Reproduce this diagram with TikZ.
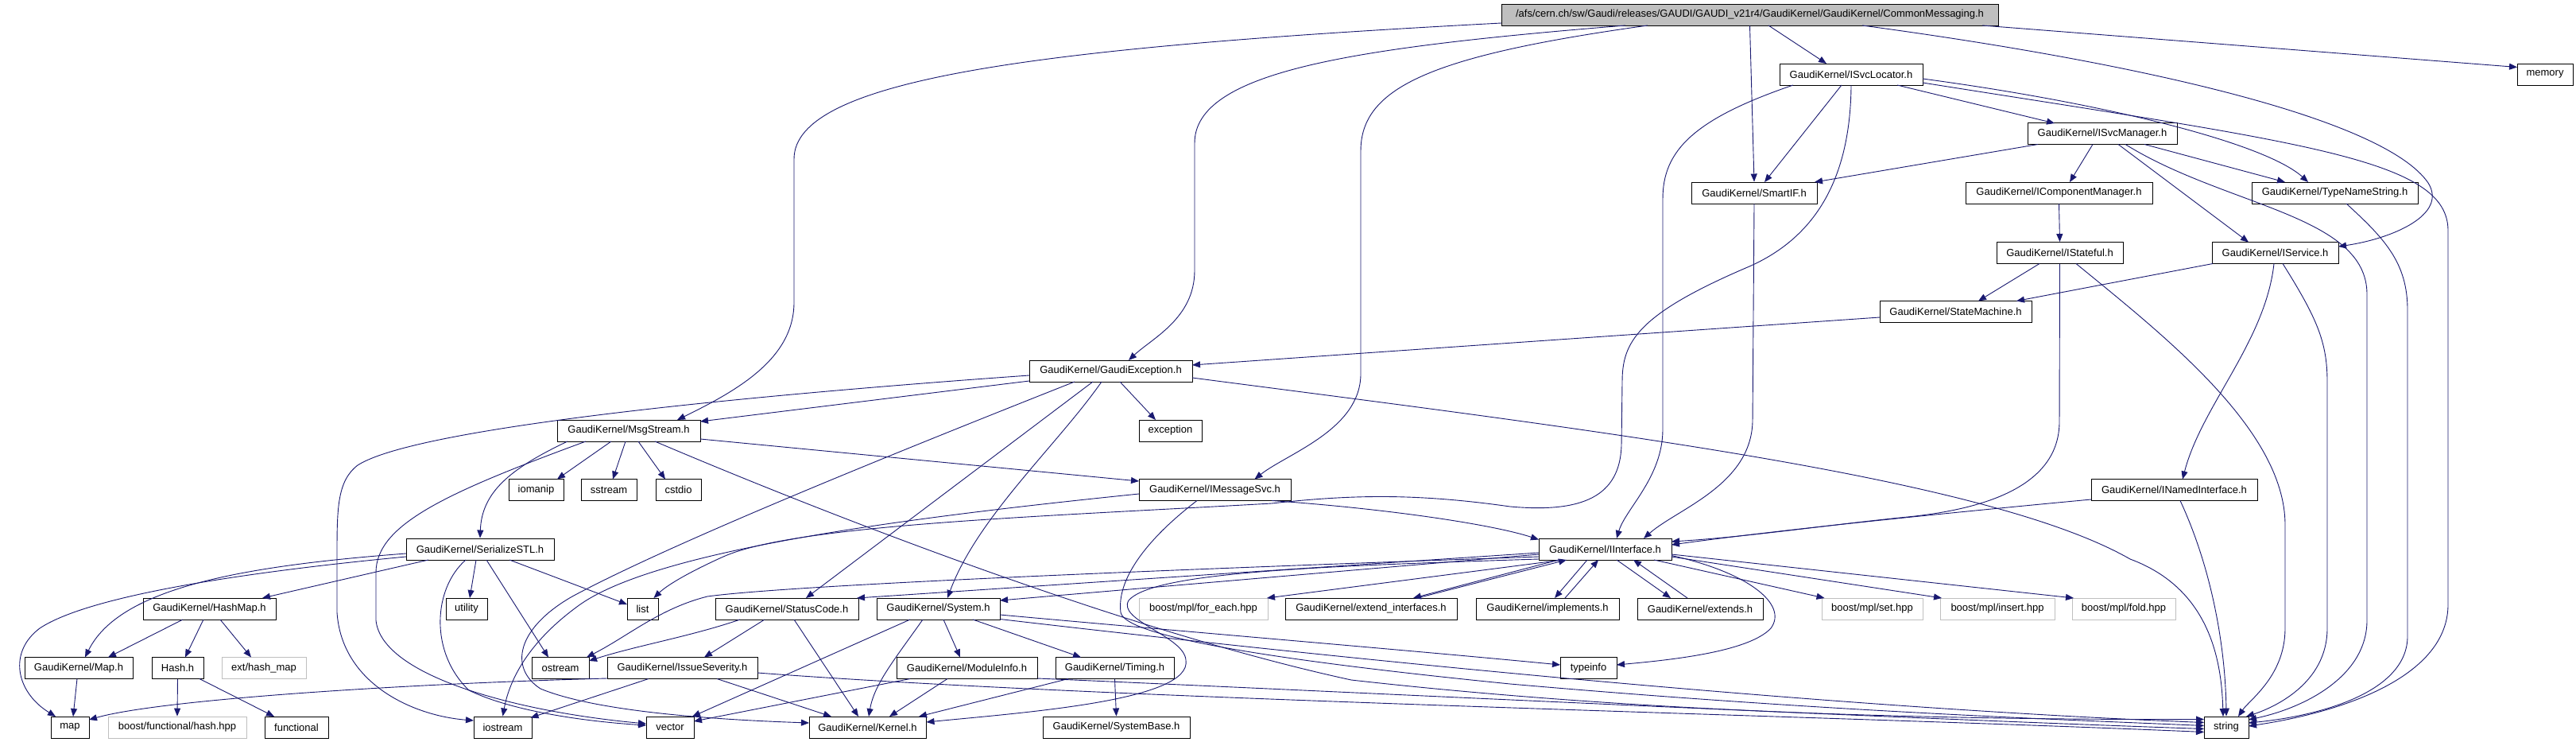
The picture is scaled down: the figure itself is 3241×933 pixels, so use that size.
\documentclass[tikz,border=0pt]{standalone}
\usepackage{fontspec}
\setmainfont{Liberation Sans}
\usetikzlibrary{arrows.meta}
\definecolor{edgec}{HTML}{191970}
\definecolor{greyf}{HTML}{BFBFBF}
\newcommand\gfont{\fontsize{13}{15}\selectfont}
\begin{document}
\begin{tikzpicture}[x=1pt,y=-1pt,
  box/.style={draw=black, line width=0.9pt, rectangle, minimum height=27pt, inner sep=0pt, font=\gfont, text=black, fill=white},
  gbox/.style={box, draw=greyf},
  e/.style={draw=edgec, line width=0.9pt, -{Triangle[length=10pt,width=8pt]}}]
\useasboundingbox (0,0) rectangle (3241,933);
\fill[white] (0,0) rectangle (3241,933);
% ---- nodes
\node[box, fill=greyf, minimum width=625pt] (root) at (2201.5,18.5) {/afs/cern.ch/sw/Gaudi/releases/GAUDI/GAUDI\_v21r4/GaudiKernel/GaudiKernel/CommonMessaging.h};
\node[box, minimum width=180pt] (svcloc) at (2329,93.5) {GaudiKernel/ISvcLocator.h};
\node[box, minimum width=70pt] (memory) at (3202,93.5) {memory};
\node[box, minimum width=188pt] (svcmgr) at (2645,168) {GaudiKernel/ISvcManager.h};
\node[box, minimum width=158pt] (smartif) at (2207,242.5) {GaudiKernel/SmartIF.h};
\node[box, minimum width=235pt] (compmgr) at (2590.5,242.5) {GaudiKernel/IComponentManager.h};
\node[box, minimum width=209pt] (typename) at (2937.5,242.5) {GaudiKernel/TypeNameString.h};
\node[box, minimum width=159pt] (stateful) at (2591.5,318) {GaudiKernel/IStateful.h};
\node[box, minimum width=159pt] (service) at (2862.5,318) {GaudiKernel/IService.h};
\node[box, minimum width=191pt] (statemachine) at (2460.5,392) {GaudiKernel/StateMachine.h};
\node[box, minimum width=205pt] (gexc) at (1397.5,466.5) {GaudiKernel/GaudiException.h};
\node[box, minimum width=180pt] (msgstream) at (791,541.5) {GaudiKernel/MsgStream.h};
\node[box, minimum width=79pt] (exception) at (1472.5,541.5) {exception};
\node[box, minimum width=69pt] (iomanip) at (674.5,616) {iomanip};
\node[box, minimum width=70pt] (sstream) at (766,616) {sstream};
\node[box, minimum width=57pt] (cstdio) at (853.5,616) {cstdio};
\node[box, minimum width=191pt] (imsgsvc) at (1528.5,616) {GaudiKernel/IMessageSvc.h};
\node[box, minimum width=209pt] (inamed) at (2735.5,616) {GaudiKernel/INamedInterface.h};
\node[box, minimum width=186pt] (serial) at (604,690.5) {GaudiKernel/SerializeSTL.h};
\node[box, minimum width=167pt] (iinterface) at (2019.5,690.5) {GaudiKernel/IInterface.h};
\node[box, minimum width=167pt] (hashmap) at (263.5,765.5) {GaudiKernel/HashMap.h};
\node[box, minimum width=52pt] (utility) at (587,765.5) {utility};
\node[box, minimum width=39pt] (list) at (808.5,765.5) {list};
\node[box, minimum width=180pt] (statuscode) at (990,765.5) {GaudiKernel/StatusCode.h};
\node[box, minimum width=155pt] (system) at (1180.5,765.5) {GaudiKernel/System.h};
\node[gbox, minimum width=162pt] (foreach) at (1514,765.5) {boost/mpl/for\_each.hpp};
\node[box, minimum width=216pt] (extif) at (1725,765.5) {GaudiKernel/extend\_interfaces.h};
\node[box, minimum width=180pt] (implements) at (1947,765.5) {GaudiKernel/implements.h};
\node[box, minimum width=158pt] (extends) at (2139,765.5) {GaudiKernel/extends.h};
\node[gbox, minimum width=127pt] (set) at (2355.5,765.5) {boost/mpl/set.hpp};
\node[gbox, minimum width=144pt] (insert) at (2513,765.5) {boost/mpl/insert.hpp};
\node[gbox, minimum width=130pt] (fold) at (2672,765.5) {boost/mpl/fold.hpp};
\node[box, minimum width=136pt] (mapgk) at (99,840) {GaudiKernel/Map.h};
\node[box, minimum width=65pt] (hash) at (223.5,840) {Hash.h};
\node[gbox, minimum width=106pt] (exthash) at (332,840) {ext/hash\_map};
\node[box, minimum width=72pt] (ostream) at (705,840) {ostream};
\node[box, minimum width=189pt] (issue) at (858.5,840) {GaudiKernel/IssueSeverity.h};
\node[box, minimum width=177pt] (moduleinfo) at (1216.5,840) {GaudiKernel/ModuleInfo.h};
\node[box, minimum width=149pt] (timing) at (1402.5,840) {GaudiKernel/Timing.h};
\node[box, minimum width=71pt] (typeinfo) at (1998.5,840) {typeinfo};
\node[box, minimum width=48pt] (map) at (88,914.5) {map};
\node[gbox, minimum width=174pt] (boosthash) at (223,914.5) {boost/functional/hash.hpp};
\node[box, minimum width=80pt] (functional) at (373,914.5) {functional};
\node[box, minimum width=73pt] (iostream) at (632.5,914.5) {iostream};
\node[box, minimum width=60pt] (vector) at (843,914.5) {vector};
\node[box, minimum width=147pt] (kernel) at (1091.5,914.5) {GaudiKernel/Kernel.h};
\node[box, minimum width=185pt] (systembase) at (1404.5,914.5) {GaudiKernel/SystemBase.h};
\node[box, minimum width=56pt] (string) at (2801,914.5) {string};
% ---- root
\draw[e] ([shift={(23.5,13.5)}]root.center) -- ([shift={(-31,-13.5)}]svcloc.center);
\draw[e] (root.south) -- (smartif.north);
\draw[e] ([shift={(292.5,13.5)}]root.center) -- ([shift={(-35,-9)}]memory.center);
\draw[e] ([shift={(-156.5,13.5)}]root.center) .. controls (1700,60) and (1503,90) .. (1503,180) -- (1503,340) .. controls (1503,400) and (1450,425) .. ([shift={(22.5,-13.5)}]gexc.center);
\draw[e] ([shift={(-312.5,10.5)}]root.center) .. controls (1300,60) and (999,100) .. (999,200) -- (999,380) .. controls (999,450) and (930,490) .. ([shift={(61,-13.5)}]msgstream.center);
\draw[e] ([shift={(-128.5,13.5)}]root.center) .. controls (1800,70) and (1712,110) .. (1712,190) -- (1712,470) .. controls (1712,540) and (1620,570) .. ([shift={(50,-13.5)}]imsgsvc.center);
\draw[e] ([shift={(141.5,13.5)}]root.center) .. controls (2700,80) and (3000,150) .. (3055,230) .. controls (3080,270) and (3010,300) .. ([shift={(79.5,-8)}]service.center);
% ---- ISvcLocator
\draw[e] ([shift={(58,13.5)}]svcloc.center) -- ([shift={(-60,-13)}]svcmgr.center);
\draw[e] ([shift={(-12,13.5)}]svcloc.center) -- ([shift={(13,-13.5)}]smartif.center);
\draw[e] ([shift={(-73,13.5)}]svcloc.center) .. controls (2130,150) and (2092,190) .. (2092,250) -- (2092,540) .. controls (2092,600) and (2045,640) .. ([shift={(14.5,-13.5)}]iinterface.center);
\draw[e] (svcloc.south) .. controls (2328,230) and (2280,300) .. (2201,335) .. controls (2060,395) and (2041,430) .. (2041,480) -- (2040,560) .. controls (2038,625) and (1990,645) .. (1900,637) .. controls (1780,620) and (1700,622) .. (1600,633) .. controls (1300,650) and (1000,660) .. (910,700) .. controls (870,718) and (840,735) .. ([shift={(14,-13.5)}]list.center);
\draw[e] ([shift={(90,5.5)}]svcloc.center) .. controls (2650,130) and (2850,180) .. ([shift={(-33.5,-13.5)}]typename.center);
\draw[e] ([shift={(90,10.5)}]svcloc.center) .. controls (2900,180) and (3080,200) .. (3080,290) -- (3080,760) .. controls (3080,850) and (2950,895) .. ([shift={(28,-1.5)}]string.center);
% ---- ISvcManager
\draw[e] ([shift={(-81,13.5)}]svcmgr.center) -- ([shift={(76,-13.5)}]smartif.center);
\draw[e] ([shift={(-12,13.5)}]svcmgr.center) -- ([shift={(13.5,-13.5)}]compmgr.center);
\draw[e] ([shift={(53,13.5)}]svcmgr.center) -- ([shift={(-62.5,-13.5)}]typename.center);
\draw[e] ([shift={(20,13.5)}]svcmgr.center) -- ([shift={(-33.5,-13.5)}]service.center);
\draw[e] ([shift={(29,13.5)}]svcmgr.center) .. controls (2800,260) and (2978,270) .. (2978,370) -- (2978,780) .. controls (2978,850) and (2900,890) .. ([shift={(28,-9.5)}]string.center);
\draw[e] ([shift={(14.5,13.5)}]typename.center) .. controls (3000,300) and (3029,330) .. (3029,390) -- (3029,800) .. controls (3029,870) and (2920,900) .. ([shift={(28,-5.5)}]string.center);
\draw[e] (compmgr.south) -- (stateful.north);
% ---- IStateful / IService
\draw[e] ([shift={(-25.5,13.5)}]stateful.center) -- ([shift={(28.5,-13.5)}]statemachine.center);
\draw[e] (stateful.south) -- (2591,530) .. controls (2591,610) and (2500,640) .. (2400,650) .. controls (2300,660) and (2200,675) .. ([shift={(83.5,-9.5)}]iinterface.center);
\draw[e] ([shift={(20.5,13.5)}]stateful.center) .. controls (2720,420) and (2875,540) .. (2875,660) -- (2875,790) .. controls (2875,850) and (2830,880) .. ([shift={(15,-13.5)}]string.center);
\draw[e] ([shift={(-78.5,13.5)}]service.center) -- ([shift={(76.5,-13.5)}]statemachine.center);
\draw[e] ([shift={(-1.5,13.5)}]service.center) .. controls (2850,430) and (2770,510) .. ([shift={(10.5,-13.5)}]inamed.center);
\draw[e] ([shift={(9.5,13.5)}]service.center) .. controls (2915,400) and (2928,430) .. (2928,480) -- (2928,790) .. controls (2928,860) and (2860,890) .. ([shift={(25,-13.5)}]string.center);
\draw[e] ([shift={(-104.5,12)}]inamed.center) .. controls (2450,645) and (2250,665) .. ([shift={(83.5,-5.5)}]iinterface.center);
\draw[e] ([shift={(7.5,13.5)}]inamed.center) .. controls (2785,720) and (2800,820) .. (string.north);
\draw[e] ([shift={(-95.5,7)}]statemachine.center) -- ([shift={(102.5,-7.5)}]gexc.center);
\draw[e] (smartif.south) -- (2205,530) .. controls (2203,610) and (2110,640) .. ([shift={(48.5,-13.5)}]iinterface.center);
% ---- GaudiException
\draw[e] ([shift={(-102.5,5.5)}]gexc.center) .. controls (900,500) and (520,540) .. (450,585) .. controls (424,605) and (424,640) .. (424,700) -- (424,770) .. controls (430,860) and (520,900) .. ([shift={(-36.5,-8.5)}]iostream.center);
\draw[e] ([shift={(-102.5,12.5)}]gexc.center) -- ([shift={(90,-11.5)}]msgstream.center);
\draw[e] ([shift={(-45.5,13.5)}]gexc.center) .. controls (1150,560) and (850,680) .. (720,750) .. controls (650,790) and (640,840) .. (680,866) .. controls (750,895) and (900,905) .. ([shift={(-73.5,-5.5)}]kernel.center);
\draw[e] ([shift={(-22.5,13.5)}]gexc.center) -- ([shift={(24,-13.5)}]statuscode.center);
\draw[e] ([shift={(-11.5,13.5)}]gexc.center) .. controls (1330,560) and (1230,650) .. ([shift={(11.5,-13.5)}]system.center);
\draw[e] ([shift={(11.5,13.5)}]gexc.center) -- ([shift={(-18.5,-13.5)}]exception.center);
\draw[e] ([shift={(102.5,8.5)}]gexc.center) .. controls (2000,540) and (2500,600) .. (2680,703) .. controls (2780,740) and (2795,830) .. ([shift={(-4,-13.5)}]string.center);
% ---- MsgStream
\draw[e] ([shift={(90,10.5)}]msgstream.center) -- ([shift={(-95.5,-11)}]imsgsvc.center);
\draw[e] ([shift={(-77,13.5)}]msgstream.center) .. controls (640,590) and (606,620) .. (serial.north);
\draw[e] ([shift={(-54,13.5)}]msgstream.center) .. controls (560,620) and (473,660) .. (473,720) -- (473,780) .. controls (480,850) and (650,895) .. ([shift={(-30,-4.5)}]vector.center);
\draw[e] ([shift={(-22,13.5)}]msgstream.center) -- ([shift={(26.5,-13.5)}]iomanip.center);
\draw[e] ([shift={(-4,13.5)}]msgstream.center) -- ([shift={(5,-13.5)}]sstream.center);
\draw[e] ([shift={(12,13.5)}]msgstream.center) -- ([shift={(-16.5,-13.5)}]cstdio.center);
\draw[e] ([shift={(33,13.5)}]msgstream.center) .. controls (1000,630) and (1400,790) .. (1700,855) .. controls (2100,900) and (2500,905) .. ([shift={(-28,-10)}]string.center);
% ---- IMessageSvc
\draw[e] ([shift={(71.5,13.5)}]imsgsvc.center) .. controls (1750,640) and (1880,660) .. ([shift={(-83.5,-12)}]iinterface.center);
\draw[e] ([shift={(-95.5,5)}]imsgsvc.center) .. controls (1150,650) and (830,690) .. (730,760) .. controls (660,810) and (640,860) .. (iostream.north);
\draw[e] ([shift={(-22.5,13.5)}]imsgsvc.center) .. controls (1440,680) and (1405,730) .. (1410,770) .. controls (1415,800) and (1600,830) .. (1900,860) .. controls (2300,895) and (2600,905) .. ([shift={(-28,-2)}]string.center);
% ---- IInterface
\draw[e] ([shift={(-53.5,13.5)}]iinterface.center) -- ([shift={(80,-13.5)}]foreach.center);
\draw[e] ([shift={(-58.5,13.5)}]iinterface.center) -- ([shift={(53,-13.5)}]extif.center);
\draw[e] ([shift={(58,-13.5)}]extif.center) -- ([shift={(-48.5,13.5)}]iinterface.center);
\draw[e] ([shift={(-22.5,13.5)}]iinterface.center) -- ([shift={(9,-13.5)}]implements.center);
\draw[e] ([shift={(22,-13.5)}]implements.center) -- ([shift={(-8.5,13.5)}]iinterface.center);
\draw[e] ([shift={(14.5,13.5)}]iinterface.center) -- ([shift={(-37,-13.5)}]extends.center);
\draw[e] ([shift={(-16,-13.5)}]extends.center) -- ([shift={(35.5,13.5)}]iinterface.center);
\draw[e] ([shift={(61.5,13.5)}]iinterface.center) -- ([shift={(-60,-13.5)}]set.center);
\draw[e] ([shift={(83.5,9.5)}]iinterface.center) -- ([shift={(-70,-13.5)}]insert.center);
\draw[e] ([shift={(83.5,6.5)}]iinterface.center) -- ([shift={(-63,-13.5)}]fold.center);
\draw[e] ([shift={(83.5,8)}]iinterface.center) .. controls (2200,720) and (2250,760) .. (2228,790) .. controls (2200,820) and (2100,830) .. ([shift={(35.5,-4)}]typeinfo.center);
\draw[e] ([shift={(-83.5,4.5)}]iinterface.center) -- ([shift={(88,-13.5)}]statuscode.center);
\draw[e] ([shift={(-83.5,6.5)}]iinterface.center) -- ([shift={(77.5,-10.5)}]system.center);
\draw[e] ([shift={(-83.5,9.5)}]iinterface.center) .. controls (1500,715) and (1000,735) .. (890,750) .. controls (830,765) and (790,800) .. ([shift={(33,-13.5)}]ostream.center);
\draw[e] ([shift={(-83.5,12.5)}]iinterface.center) .. controls (1650,712) and (1450,720) .. (1420,755) .. controls (1405,780) and (1490,800) .. (1492,830) .. controls (1500,880) and (1300,895) .. ([shift={(74,-6.5)}]kernel.center);
% ---- StatusCode
\draw[e] ([shift={(-59,13.5)}]statuscode.center) .. controls (870,800) and (800,812) .. ([shift={(36,-9)}]ostream.center);
\draw[e] ([shift={(-28,13.5)}]statuscode.center) -- ([shift={(27.5,-13.5)}]issue.center);
\draw[e] ([shift={(9,13.5)}]statuscode.center) -- ([shift={(-11.5,-13.5)}]kernel.center);
% ---- System
\draw[e] ([shift={(-35.5,13.5)}]system.center) -- ([shift={(28,-13.5)}]vector.center);
\draw[e] ([shift={(-19.5,13.5)}]system.center) .. controls (1125,830) and (1100,860) .. ([shift={(1.5,-13.5)}]kernel.center);
\draw[e] ([shift={(6.5,13.5)}]system.center) -- ([shift={(-8.5,-13.5)}]moduleinfo.center);
\draw[e] ([shift={(43.5,13.5)}]system.center) -- ([shift={(-42.5,-13.5)}]timing.center);
\draw[e] ([shift={(77.5,7.5)}]system.center) .. controls (1500,795) and (1800,820) .. ([shift={(-35.5,-4)}]typeinfo.center);
\draw[e] ([shift={(77.5,13)}]system.center) .. controls (1700,830) and (2300,890) .. ([shift={(-28,-6)}]string.center);
% ---- ModuleInfo / Timing
\draw[e] ([shift={(-71.5,13.5)}]moduleinfo.center) -- ([shift={(30,-7.5)}]vector.center);
\draw[e] ([shift={(-24.5,13.5)}]moduleinfo.center) -- ([shift={(27.5,-13.5)}]kernel.center);
\draw[e] ([shift={(88.5,13)}]moduleinfo.center) .. controls (1700,870) and (2300,900) .. ([shift={(-28,2)}]string.center);
\draw[e] ([shift={(-58.5,13.5)}]timing.center) -- ([shift={(64.5,-13.5)}]kernel.center);
\draw[e] (timing.south) -- (systembase.north);
% ---- IssueSeverity
\draw[e] ([shift={(-94.5,13)}]issue.center) .. controls (500,860) and (200,880) .. ([shift={(24,-9.5)}]map.center);
\draw[e] ([shift={(-42.5,13.5)}]issue.center) -- ([shift={(35,-12)}]iostream.center);
\draw[e] ([shift={(43.5,13.5)}]issue.center) -- ([shift={(-45.5,-13.5)}]kernel.center);
\draw[e] ([shift={(94.5,6)}]issue.center) .. controls (1400,880) and (2300,900) .. ([shift={(-28,6)}]string.center);
% ---- SerializeSTL
\draw[e] ([shift={(-93,9.5)}]serial.center) .. controls (300,720) and (110,750) .. (50,790) .. controls (10,820) and (20,870) .. ([shift={(-18,-13.5)}]map.center);
\draw[e] ([shift={(-93,5.5)}]serial.center) .. controls (300,712) and (150,740) .. ([shift={(8,-13.5)}]mapgk.center);
\draw[e] ([shift={(-65,13.5)}]serial.center) -- ([shift={(66.5,-13.5)}]hashmap.center);
\draw[e] ([shift={(-18,13.5)}]serial.center) .. controls (545,740) and (540,820) .. (590,868) .. controls (650,897) and (750,908) .. ([shift={(-30,-2.5)}]vector.center);
\draw[e] ([shift={(-5,13.5)}]serial.center) -- ([shift={(4,-13.5)}]utility.center);
\draw[e] ([shift={(8,13.5)}]serial.center) -- ([shift={(-15,-13.5)}]ostream.center);
\draw[e] ([shift={(37,13.5)}]serial.center) -- ([shift={(-19.5,-5.5)}]list.center);
% ---- HashMap / Map / Hash
\draw[e] ([shift={(-33.5,13.5)}]hashmap.center) -- ([shift={(37,-13.5)}]mapgk.center);
\draw[e] ([shift={(-7.5,13.5)}]hashmap.center) -- ([shift={(9.5,-13.5)}]hash.center);
\draw[e] ([shift={(13.5,13.5)}]hashmap.center) -- ([shift={(-16,-13.5)}]exthash.center);
\draw[e] ([shift={(-2,13.5)}]mapgk.center) -- ([shift={(4,-13.5)}]map.center);
\draw[e] (hash.south) -- (boosthash.north);
\draw[e] ([shift={(27.5,13.5)}]hash.center) -- ([shift={(-28,-13.5)}]functional.center);
\end{tikzpicture}
\end{document}
